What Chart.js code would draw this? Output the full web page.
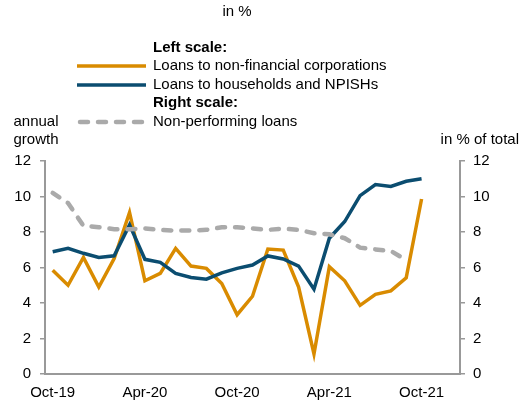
<!DOCTYPE html>
<html>
<head>
<meta charset="utf-8">
<script src="https://cdn.jsdelivr.net/npm/chart.js@4"></script>
<style>
  html, body { margin: 0; padding: 0; background: #fff; }
  #wrap { width: 519px; height: 403px; }
</style>
</head>
<body>
<div id="wrap"><canvas id="chart" width="519" height="403"></canvas></div>
<script>
// Monthly observations, Oct-19 .. Dec-21 (last two months have no data yet)
const months = [
  'Oct-19', 'Nov-19', 'Dec-19', 'Jan-20', 'Feb-20', 'Mar-20', 'Apr-20', 'May-20', 'Jun-20',
  'Jul-20', 'Aug-20', 'Sep-20', 'Oct-20', 'Nov-20', 'Dec-20', 'Jan-21', 'Feb-21', 'Mar-21',
  'Apr-21', 'May-21', 'Jun-21', 'Jul-21', 'Aug-21', 'Sep-21', 'Oct-21', 'Nov-21', 'Dec-21'
];

// left scale, annual growth in %
const loansNFC = [
  5.85, 5.0, 6.57, 4.9, 6.5, 9.1, 5.25, 5.67, 7.08,
  6.08, 5.95, 5.1, 3.34, 4.38, 7.04, 6.98, 4.9, 1.13,
  6.04, 5.25, 3.87, 4.49, 4.68, 5.42, 9.86, null, null
];
const loansHouseholds = [
  6.89, 7.08, 6.8, 6.57, 6.66, 8.4, 6.46, 6.29, 5.67,
  5.44, 5.34, 5.7, 5.95, 6.14, 6.65, 6.48, 6.08, 4.78,
  7.65, 8.59, 10.05, 10.67, 10.57, 10.86, 11.0, null, null
];
// right scale, in % of total
const nplRatio = [
  10.2, 9.63, 8.35, 8.27, 8.16, 8.16, 8.2, 8.12, 8.08,
  8.08, 8.12, 8.27, 8.27, 8.2, 8.12, 8.19, 8.12, 7.93,
  7.87, 7.65, 7.12, 7.02, 6.93, 6.42, null, null, null
];

const yTicks = [0, 2, 4, 6, 8, 10, 12];

const ORANGE = '#d98b00';
const BLUE   = '#0b4d70';
const GREY   = '#aaaaaa';
const AXIS   = '#999999';
const FONT   = "'Liberation Sans', Arial, sans-serif";

// titles and legend drawn straight onto the canvas
const annotations = {
  id: 'annotations',
  afterDraw(chart) {
    const ctx = chart.ctx;
    ctx.save();
    ctx.fillStyle = '#000';
    ctx.textBaseline = 'middle';
    ctx.font = `15px ${FONT}`;

    ctx.textAlign = 'center';
    ctx.fillText('in %', 237, 12);
    ctx.fillText('annual', 36, 122);
    ctx.fillText('growth', 36, 140);
    ctx.textAlign = 'right';
    ctx.fillText('in % of total', 519, 140);

    ctx.textAlign = 'left';
    const tx = 153;
    ctx.font = `bold 15px ${FONT}`;
    ctx.fillText('Left scale:', tx, 48);
    ctx.fillText('Right scale:', tx, 103);
    ctx.font = `15px ${FONT}`;
    ctx.fillText('Loans to non-financial corporations', tx, 66);
    ctx.fillText('Loans to households and NPISHs', tx, 85);
    ctx.fillText('Non-performing loans', tx, 122);

    const sample = (y, color, dash, width) => {
      ctx.beginPath();
      ctx.strokeStyle = color;
      ctx.lineWidth = width;
      ctx.setLineDash(dash);
      ctx.lineCap = dash.length ? 'round' : 'butt';
      ctx.moveTo(dash.length ? 80 : 77, y);
      ctx.lineTo(146, y);
      ctx.stroke();
    };
    sample(66, ORANGE, [], 3.5);
    sample(85, BLUE, [], 3.5);
    sample(122, GREY, [8, 10], 4.5);
    ctx.restore();
  }
};

const tickFont = { family: FONT, size: 15 };

new Chart(document.getElementById('chart'), {
  type: 'line',
  data: {
    labels: months,
    datasets: [
      {
        label: 'Loans to non-financial corporations',
        data: loansNFC,
        yAxisID: 'y',
        borderColor: ORANGE,
        borderWidth: 3.5,
        pointRadius: 0,
        tension: 0,
        order: 2,
      },
      {
        label: 'Loans to households and NPISHs',
        data: loansHouseholds,
        yAxisID: 'y',
        borderColor: BLUE,
        borderWidth: 3.5,
        pointRadius: 0,
        tension: 0,
        order: 1,
      },
      {
        label: 'Non-performing loans',
        data: nplRatio,
        yAxisID: 'y1',
        borderColor: GREY,
        borderWidth: 4.5,
        borderDash: [8, 10],
        borderCapStyle: 'round',
        pointRadius: 0,
        tension: 0,
        order: 0,
      },
    ],
  },
  options: {
    responsive: false,
    animation: false,
    layout: { padding: { top: 161, left: 0, right: 0, bottom: 0 } },
    plugins: {
      legend: { display: false },
      tooltip: { enabled: false },
    },
    scales: {
      x: {
        offset: true,
        grid: { display: false, drawTicks: false },
        border: { display: true, color: AXIS, width: 2 },
        ticks: {
          color: '#000',
          font: tickFont,
          padding: 10,
          autoSkip: false,
          maxRotation: 0,
          callback: (v, i) => (i % 6 === 0 ? months[i] : ''),
        },
        afterFit: s => { s.height = 29; },
      },
      y: {
        position: 'left',
        min: 0,
        max: 12,
        afterBuildTicks: s => { s.ticks = yTicks.map(v => ({ value: v })); },
        grid: { drawOnChartArea: false, drawTicks: true, tickLength: 5, color: AXIS, lineWidth: 1.5 },
        border: { display: true, color: AXIS, width: 2 },
        ticks: { color: '#000', font: tickFont, padding: 9 },
        afterFit: s => { s.width = 45; },
      },
      y1: {
        position: 'right',
        min: 0,
        max: 12,
        afterBuildTicks: s => { s.ticks = yTicks.map(v => ({ value: v })); },
        grid: { drawOnChartArea: false, drawTicks: true, tickLength: 5, color: AXIS, lineWidth: 1.5 },
        border: { display: true, color: AXIS, width: 2 },
        ticks: { color: '#000', font: tickFont, padding: 8 },
        afterFit: s => { s.width = 59; },
      },
    },
  },
  plugins: [annotations],
});
</script>
</body>
</html>
